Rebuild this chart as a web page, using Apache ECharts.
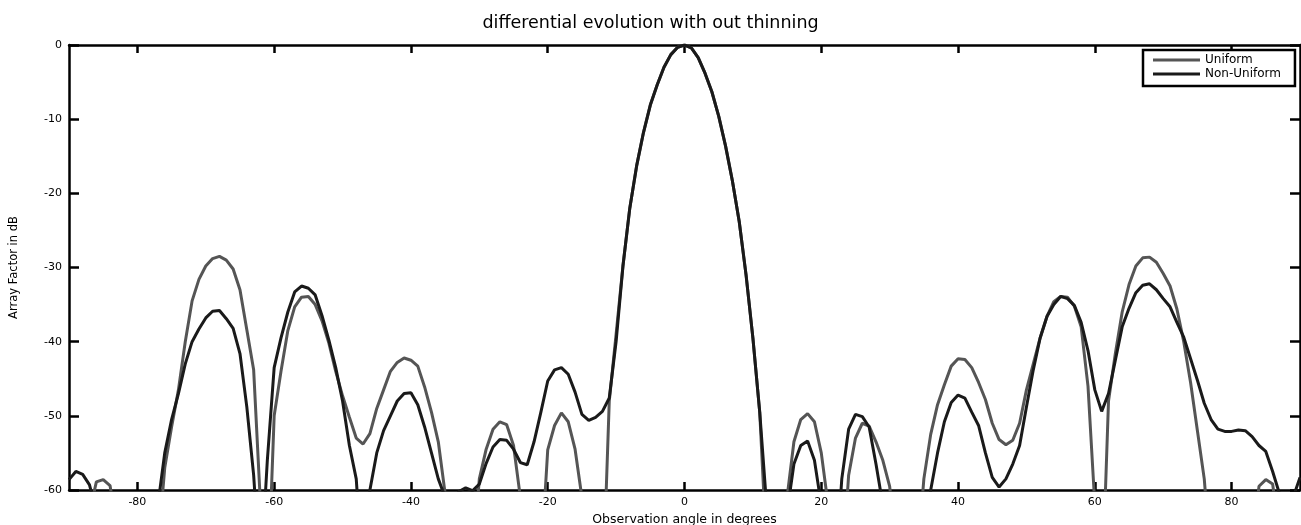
<!DOCTYPE html>
<html><head><meta charset="utf-8">
<script src="https://cdn.jsdelivr.net/npm/echarts@6/dist/echarts.min.js"></script>
<style>html,body{margin:0;padding:0;background:#fff}#c{width:1301px;height:525px}</style>
</head><body><div id="c"></div><script>
// Observation angle (degrees)
const angles = [
 -90,-89,-88,-87,-86,-85,-84,-83,-82,-81,
 -80,-79,-78,-77,-76,-75,-74,-73,-72,-71,
 -70,-69,-68,-67,-66,-65,-64,-63,-62,-61,
 -60,-59,-58,-57,-56,-55,-54,-53,-52,-51,
 -50,-49,-48,-47,-46,-45,-44,-43,-42,-41,
 -40,-39,-38,-37,-36,-35,-34,-33,-32,-31,
 -30,-29,-28,-27,-26,-25,-24,-23,-22,-21,
 -20,-19,-18,-17,-16,-15,-14,-13,-12,-11,
 -10,-9,-8,-7,-6,-5,-4,-3,-2,-1,
 0,1,2,3,4,5,6,7,8,9,
 10,11,12,13,14,15,16,17,18,19,
 20,21,22,23,24,25,26,27,28,29,
 30,31,32,33,34,35,36,37,38,39,
 40,41,42,43,44,45,46,47,48,49,
 50,51,52,53,54,55,56,57,58,59,
 60,61,62,63,64,65,66,67,68,69,
 70,71,72,73,74,75,76,77,78,79,
 80,81,82,83,84,85,86,87,88,89,
 90
];
// Array factor (dB), Uniform
const uniform = [
 -80,-78,-70,-63,-58.9,-58.6,-59.4,-65,-78,-80,
 -80,-80,-80,-68,-57,-51.5,-46.5,-40,-34.5,-31.6,
 -29.8,-28.8,-28.5,-29,-30.2,-33,-38.4,-43.8,-62,-75,
 -50,-44,-38.5,-35.3,-34,-33.9,-35,-37.2,-40.2,-44,
 -47.3,-50.2,-53,-53.8,-52.4,-49,-46.5,-44,-42.8,-42.2,
 -42.5,-43.3,-46.1,-49.5,-53.5,-60.5,-75,-80,-80,-70,
 -58.5,-54.5,-51.8,-50.8,-51.2,-54,-61,-75,-80,-70,
 -54.6,-51.3,-49.6,-50.8,-54.5,-61,-75,-80,-75,-48,
 -39,-29.8,-22,-16.3,-11.8,-8.1,-5.4,-3.0,-1.3,-0.3,
 0,-0.4,-1.7,-3.8,-6.3,-9.6,-13.6,-18.3,-23.8,-31,
 -39.5,-49.5,-68,-80,-75,-61,-53.5,-50.5,-49.7,-50.8,
 -55,-62,-78,-72,-58,-53,-51,-51.4,-53.5,-56,
 -59.5,-68,-80,-80,-70,-58.5,-52.5,-48.5,-45.8,-43.3,
 -42.3,-42.4,-43.5,-45.5,-47.8,-51,-53.2,-53.9,-53.3,-51,
 -46.5,-43,-39.5,-36.6,-34.6,-33.9,-34,-35.2,-38,-46,
 -62,-75,-48,-41.6,-36,-32.3,-29.8,-28.7,-28.6,-29.3,
 -30.8,-32.5,-35.6,-40,-45.5,-52,-58.5,-70,-80,-80,
 -80,-80,-80,-68,-59.5,-58.6,-59.2,-66,-75,-80,
 -80
];
// Array factor (dB), Non-Uniform
const nonUniform = [
 -58.6,-57.5,-57.9,-59.3,-63,-75,-80,-80,-80,-80,
 -80,-80,-75,-62,-55,-50.5,-47,-43,-40,-38.3,
 -36.8,-35.9,-35.8,-36.9,-38.2,-41.6,-48.8,-58,-72,-56,
 -43.5,-39.5,-36,-33.3,-32.5,-32.8,-33.7,-36.5,-39.8,-43.5,
 -48,-54,-58.5,-72,-60,-55,-52,-50,-48,-47,
 -46.9,-48.5,-51.5,-55,-58.5,-61,-62,-60.2,-59.7,-60.1,
 -59.2,-56.4,-54.2,-53.2,-53.3,-54.5,-56.3,-56.6,-53.5,-49.5,
 -45.3,-43.8,-43.5,-44.4,-46.8,-49.8,-50.6,-50.2,-49.4,-47.6,
 -40,-29.8,-22,-16.3,-11.8,-8.1,-5.4,-3.0,-1.3,-0.3,
 0,-0.4,-1.7,-3.8,-6.3,-9.6,-13.6,-18.3,-23.8,-31,
 -39.5,-49.5,-62,-80,-75,-63,-56.5,-54,-53.4,-56,
 -62,-78,-72,-58.5,-51.8,-49.8,-50.1,-51.5,-56.5,-62,
 -75,-80,-80,-80,-80,-70,-60,-55,-50.8,-48.2,
 -47.2,-47.6,-49.5,-51.3,-55,-58.3,-59.6,-58.5,-56.5,-54,
 -48.8,-43.8,-39.5,-36.6,-35,-33.9,-34.2,-35.1,-37.4,-41.2,
 -46.5,-49.4,-47,-42.5,-38,-35.5,-33.4,-32.4,-32.2,-33,
 -34.2,-35.3,-37.4,-39.4,-42.3,-45.2,-48.3,-50.5,-51.8,-52.1,
 -52.1,-51.9,-52,-52.8,-54,-54.8,-57.5,-60.5,-68,-61,
 -58.3
];
const xTickValues = [-80,-60,-40,-20,0,20,40,60,80];
const seriesNames = ['Uniform','Non-Uniform'];

const chart = echarts.init(document.getElementById('c'), null, {renderer:'canvas'});
const font = '"DejaVu Sans", sans-serif';
const axisLine = {show:true, onZero:false, lineStyle:{color:'#000', width:2.5}};
const xCommon = {
  type:'value', min:-90, max:90,
  splitLine:{show:false},
  axisLine: axisLine,
  axisTick:{show:true, inside:true, length:8, lineStyle:{color:'#000', width:2.5}, customValues:xTickValues},
};
const yCommon = {
  type:'value', min:-60, max:0, interval:10,
  splitLine:{show:false},
  axisLine: axisLine,
  axisTick:{show:true, inside:true, length:10, lineStyle:{color:'#000', width:2.5}},
};
chart.setOption({
  animation:false,
  backgroundColor:'#fff',
  title:{text:'differential evolution with out thinning', left:'center', top:9,
    textStyle:{fontFamily:font, fontSize:17.5, fontWeight:'normal', color:'#000'}},
  grid:{left:69, right:1, top:45, bottom:35, containLabel:false, outerBoundsMode:'none'},
  legend:{
    orient:'vertical', left:1143, top:50, data:seriesNames,
    itemWidth:47, itemHeight:3, itemGap:2, icon:'rect',
    padding:[4,14,6,10],
    backgroundColor:'#fff', borderColor:'#000', borderWidth:2.5,
    textStyle:{fontFamily:font, fontSize:12, color:'#000'},
    z:10
  },
  xAxis:[
    Object.assign({}, xCommon, {position:'bottom',
      name:'Observation angle in degrees', nameLocation:'middle', nameGap:18,
      nameTextStyle:{fontFamily:font, fontSize:12.5, color:'#000'},
      axisLabel:{show:true, color:'#000', fontFamily:font, fontSize:11, margin:7, customValues:xTickValues}}),
    Object.assign({}, xCommon, {position:'top', axisLabel:{show:false}})
  ],
  yAxis:[
    Object.assign({}, yCommon, {position:'left',
      name:'Array Factor in dB', nameLocation:'middle', nameGap:49, nameRotate:90,
      nameTextStyle:{fontFamily:font, fontSize:11.5, color:'#000'},
      axisLabel:{show:true, color:'#000', fontFamily:font, fontSize:11, margin:7}}),
    Object.assign({}, yCommon, {position:'right', axisLabel:{show:false}})
  ],
  series:[
    {name:seriesNames[0], type:'line', showSymbol:false, symbol:'none', clip:true,
     data:angles.map((a,i)=>[a, uniform[i]]),
     itemStyle:{color:'#555555'}, lineStyle:{color:'#555555', width:3}, z:2},
    {name:seriesNames[1], type:'line', showSymbol:false, symbol:'none', clip:true,
     data:angles.map((a,i)=>[a, nonUniform[i]]),
     itemStyle:{color:'#1a1a1a'}, lineStyle:{color:'#1a1a1a', width:3}, z:3}
  ]
});
</script></body></html>
